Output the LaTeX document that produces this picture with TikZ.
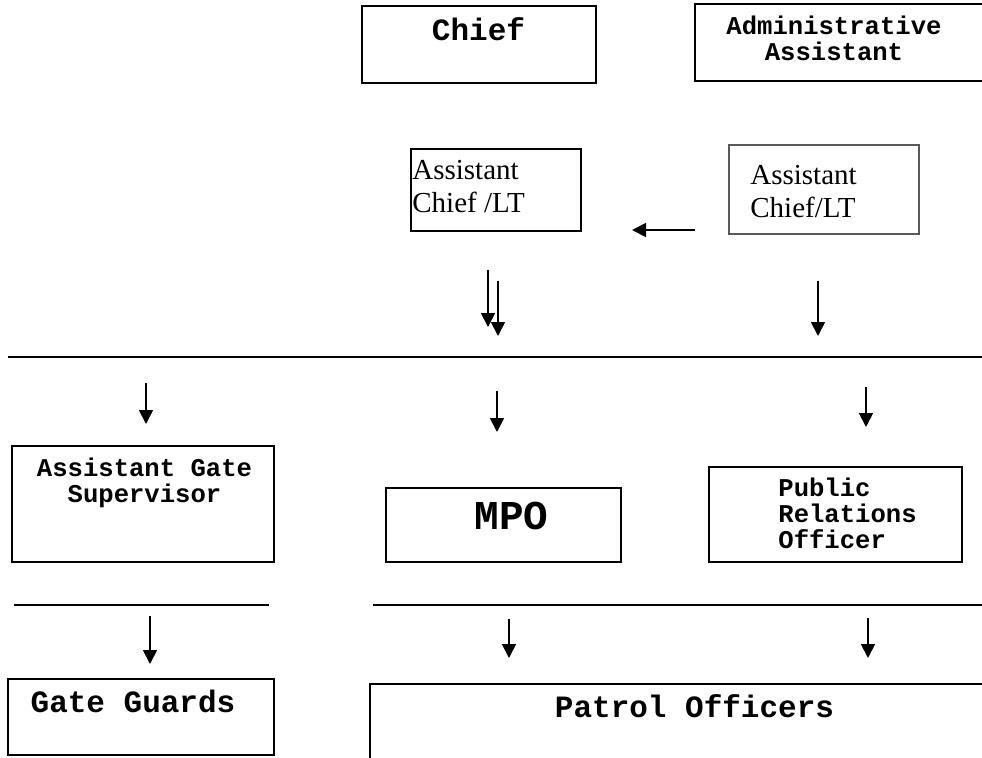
\documentclass[tikz,border=0pt]{standalone}
\usepackage{fontspec}
\setmainfont{Liberation Serif}
\newfontfamily\courier{Liberation Mono}
\usetikzlibrary{arrows.meta}

\tikzset{
  officebox/.style = {draw, line width=0.75pt, inner sep=0pt},
  bigtt/.style     = {font=\courier\bfseries\fontsize{15.5pt}{18pt}\selectfont, inner sep=0pt},
  smalltt/.style   = {font=\courier\bfseries\fontsize{12.8pt}{13pt}\selectfont, inner sep=0pt},
  mpott/.style     = {font=\courier\bfseries\fontsize{20.5pt}{22pt}\selectfont, inner sep=0pt},
  serif/.style     = {font=\fontsize{14.5pt}{16.5pt}\selectfont, inner sep=0pt},
  arr/.style       = {line width=0.9pt, -{Triangle[width=7pt,length=7pt]}},
}

\begin{document}
\begin{tikzpicture}[x=0.5pt, y=-0.5pt, line cap=butt]
  \useasboundingbox (0,0) rectangle (982,757);
  \clip (0,0) rectangle (982,757);

  % top row
  \node[officebox, minimum width=117pt, minimum height=38.5pt] (chief) at (479,44.5) {};
  \node[bigtt, anchor=base] (chieftxt) at (478.5,40) {Chief};
  \node[officebox, minimum width=147.5pt, minimum height=38.5pt] (admin) at (842.5,42.5) {};
  \node[smalltt, anchor=base, align=center] (admintxt) at (834,60) {Administrative\\Assistant};

  % assistant chiefs
  \node[officebox, minimum width=85pt, minimum height=41pt] (acl) at (496,190) {};
  \node[serif, anchor=base west, align=left] (acltxt) at (412,212) {Assistant\\Chief /LT};
  \node[officebox, draw=black!65, minimum width=95pt, minimum height=44.5pt] (acr) at (824,189.5) {};
  \node[serif, anchor=base west, align=left] (acrtxt) at (750,217) {Assistant\\Chief/LT};

  % middle row
  \node[officebox, minimum width=131pt, minimum height=58pt] (ags) at (143,504) {};
  \node[smalltt, anchor=base, align=center] (agstxt) at (144.5,502) {Assistant Gate\\Supervisor};
  \node[officebox, minimum width=117.5pt, minimum height=37pt] (mpo) at (503.5,525) {};
  \node[mpott, anchor=base] (mpotxt) at (511.5,529) {MPO};
  \node[officebox, minimum width=126.5pt, minimum height=47.5pt] (pro) at (835.5,514.5) {};
  \node[smalltt, anchor=base west, align=left] (protxt) at (778,548) {Public\\Relations\\Officer};

  % bottom row
  \node[officebox, minimum width=133pt, minimum height=38pt] (gg) at (141,717) {};
  \node[bigtt, anchor=base] (ggtxt) at (133,712) {Gate Guards};
  \node[officebox, minimum width=310pt, minimum height=48pt] (patrol) at (680,732) {};
  \node[bigtt, anchor=base] (patroltxt) at (694.5,717) {Patrol Officers};

  % rules
  \draw[line width=0.8pt] (8,357) -- (982,357);
  \draw[line width=0.8pt] (14,605) -- (269,605);
  \draw[line width=0.8pt] (373,605) -- (982,605);

  % arrows
  \foreach \n/\xa/\ya/\xb/\yb in {lt/695/230/632/230, da/488/270/488/327, db/498/281/498/336,
      rc/818/281/818/336, gs/146/383/146/424, mp/497/391/497/432, pr/866/387/866/427,
      gg/150/616/150/664, pa/509/619/509/658, pb/868/618/868/658}
  {
    \coordinate (\n s) at (\xa,\ya);
    \coordinate (\n e) at (\xb,\yb);
    \draw[arr] (\n s) -- (\n e);
  }
\end{tikzpicture}
\end{document}
